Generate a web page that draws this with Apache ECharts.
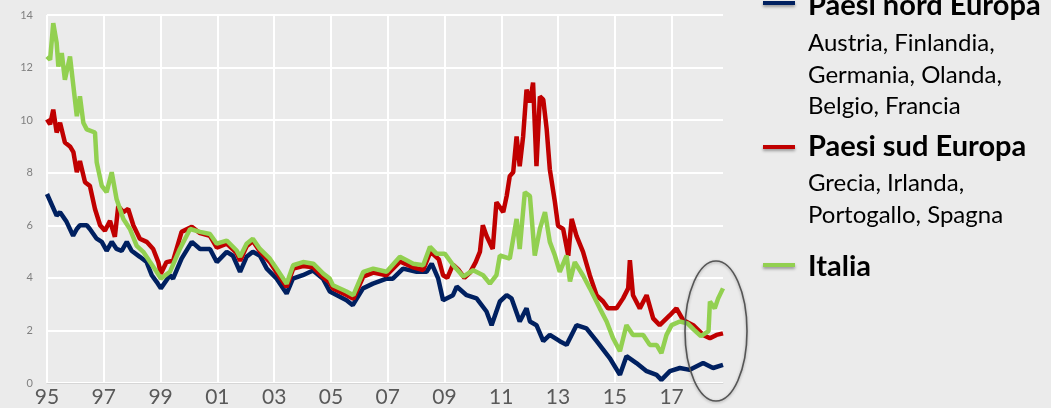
<!DOCTYPE html>
<html lang="it">
<head>
<meta charset="UTF-8">
<title>Rendimenti titoli di Stato</title>
<script src="https://cdn.jsdelivr.net/npm/echarts@6/dist/echarts.min.js"></script>
<style>
  html, body { margin: 0; padding: 0; background: #ebebeb; }
  #chart { width: 1051px; height: 408px; }
</style>
</head>
<body>
<div id="chart"></div>
<script>
// anni dal 1995 -> rendimento (%)
var tickValues = [0, 2, 4, 6, 8, 10, 12, 14, 16, 18, 20, 22];
var tickLabels = ['95', '97', '99', '01', '03', '05', '07', '09', '11', '13', '15', '17'];

var nord = [
  [0.0, 7.19], [0.34, 6.37], [0.46, 6.5], [0.69, 6.13], [0.92, 5.6], [1.05, 5.86], [1.16, 6.0],
  [1.40, 6.0], [1.51, 5.86], [1.75, 5.49], [1.93, 5.37], [2.10, 5.03], [2.28, 5.37], [2.45, 5.1],
  [2.63, 5.03], [2.81, 5.37], [2.98, 5.03], [3.27, 4.8], [3.51, 4.6], [3.69, 4.1], [3.86, 3.85],
  [4.01, 3.6], [4.33, 4.1], [4.44, 3.97], [4.74, 4.73], [5.10, 5.37], [5.39, 5.1], [5.74, 5.1],
  [5.98, 4.6], [6.33, 4.99], [6.55, 4.84], [6.80, 4.23], [7.03, 4.8], [7.25, 4.99], [7.50, 4.84],
  [7.74, 4.35], [8.09, 3.97], [8.44, 3.4], [8.66, 3.97], [9.01, 4.1], [9.37, 4.28], [9.72, 3.97],
  [9.96, 3.48], [10.55, 3.15], [10.77, 2.96], [11.13, 3.6], [11.48, 3.78], [11.96, 3.97],
  [12.18, 3.97], [12.54, 4.35], [13.02, 4.23], [13.37, 4.23], [13.55, 4.54], [13.78, 3.97],
  [13.95, 3.15], [14.30, 3.34], [14.43, 3.67], [14.78, 3.34], [15.13, 3.22], [15.48, 2.72],
  [15.66, 2.2], [15.95, 3.1], [16.19, 3.34], [16.36, 3.22], [16.65, 2.34], [16.89, 2.84],
  [17.01, 2.34], [17.24, 2.2], [17.48, 1.59], [17.71, 1.83], [18.06, 1.59], [18.30, 1.45],
  [18.65, 2.2], [19.00, 2.08], [19.36, 1.59], [19.82, 0.95], [20.18, 0.31], [20.41, 1.02],
  [20.76, 0.76], [21.12, 0.45], [21.47, 0.31], [21.64, 0.12], [21.94, 0.45], [22.29, 0.57],
  [22.64, 0.5], [23.11, 0.76], [23.46, 0.57], [23.81, 0.69]
];

var sud = [
  [0.0, 10.03], [0.11, 9.84], [0.22, 10.4], [0.34, 9.53], [0.46, 9.9], [0.63, 9.15], [0.81, 9.0],
  [0.93, 8.78], [1.05, 8.02], [1.16, 8.44], [1.34, 7.64], [1.51, 7.5], [1.69, 6.62], [1.87, 6.0],
  [2.04, 5.79], [2.22, 6.17], [2.39, 5.56], [2.51, 6.73], [2.69, 6.5], [2.86, 6.62], [3.04, 6.0],
  [3.27, 5.49], [3.51, 5.37], [3.74, 5.1], [3.92, 4.6], [4.01, 4.16], [4.21, 4.6], [4.44, 4.65],
  [4.74, 5.75], [5.10, 5.94], [5.39, 5.7], [5.74, 5.6], [5.98, 5.15], [6.33, 5.3], [6.68, 4.95],
  [6.80, 4.65], [7.03, 5.2], [7.25, 5.4], [7.50, 5.0], [7.85, 4.6], [8.09, 4.2], [8.44, 3.65],
  [8.67, 4.35], [9.02, 4.45], [9.38, 4.4], [9.73, 4.02], [9.96, 3.82], [10.07, 3.6], [10.55, 3.35],
  [10.79, 3.2], [11.14, 4.05], [11.49, 4.2], [11.96, 4.1], [12.43, 4.62], [12.90, 4.4],
  [13.25, 4.3], [13.49, 4.95], [13.6, 4.9], [13.8, 4.7], [13.95, 4.1], [14.1, 4.0], [14.3, 4.5],
  [14.5, 4.3], [14.7, 4.0], [14.9, 4.2], [15.1, 4.6], [15.25, 5.0], [15.35, 6.0], [15.48, 5.6],
  [15.70, 5.1], [15.83, 6.88], [16.07, 6.5], [16.19, 7.11], [16.30, 7.87], [16.42, 8.02],
  [16.54, 9.38], [16.65, 8.25], [16.77, 9.38], [16.89, 11.16], [17.01, 10.67], [17.12, 11.43],
  [17.24, 8.25], [17.36, 10.9], [17.48, 10.78], [17.60, 9.65], [17.71, 8.13], [17.89, 6.88],
  [18.0, 5.98], [18.18, 5.86], [18.36, 4.84], [18.48, 6.24], [18.65, 5.6], [18.88, 4.99],
  [19.12, 4.09], [19.36, 3.33], [19.59, 3.1], [19.76, 2.84], [20.06, 2.84], [20.29, 3.22],
  [20.47, 3.6], [20.53, 4.67], [20.64, 3.34], [20.88, 2.84], [21.12, 3.34], [21.35, 2.46],
  [21.58, 2.2], [21.94, 2.58], [22.17, 2.84], [22.40, 2.4], [22.76, 2.2], [23.11, 1.83],
  [23.35, 1.7], [23.58, 1.83], [23.81, 1.89]
];

var italia = [
  [0.0, 12.42], [0.11, 12.3], [0.22, 13.69], [0.34, 12.94], [0.40, 12.04], [0.52, 12.55],
  [0.63, 11.54], [0.81, 12.42], [0.93, 11.29], [1.05, 10.15], [1.16, 10.91], [1.28, 9.9],
  [1.40, 9.65], [1.69, 9.53], [1.75, 8.4], [1.93, 7.5], [2.10, 7.26], [2.28, 8.02], [2.45, 7.0],
  [2.69, 6.24], [2.92, 5.86], [3.16, 5.22], [3.39, 4.99], [3.63, 4.6], [3.86, 4.23], [4.01, 3.97],
  [4.33, 4.23], [4.68, 5.1], [5.04, 5.86], [5.39, 5.75], [5.74, 5.67], [5.98, 5.3], [6.33, 5.42],
  [6.68, 5.04], [6.80, 4.8], [7.03, 5.3], [7.25, 5.49], [7.50, 5.1], [7.85, 4.73], [8.09, 4.35],
  [8.44, 3.78], [8.67, 4.48], [9.02, 4.6], [9.38, 4.54], [9.73, 4.16], [9.96, 3.97], [10.07, 3.72],
  [10.55, 3.48], [10.79, 3.34], [11.14, 4.23], [11.49, 4.35], [11.96, 4.23], [12.43, 4.8],
  [12.90, 4.54], [13.25, 4.48], [13.49, 5.18], [13.72, 4.92], [14.01, 4.92], [14.31, 4.48],
  [14.66, 4.05], [15.01, 4.29], [15.36, 4.1], [15.60, 3.78], [15.83, 4.1], [15.95, 4.85],
  [16.30, 4.73], [16.54, 6.24], [16.65, 5.1], [16.83, 7.26], [17.01, 7.11], [17.18, 4.85],
  [17.36, 5.86], [17.54, 6.5], [17.71, 5.37], [17.89, 4.85], [18.06, 4.23], [18.30, 4.85],
  [18.42, 3.86], [18.59, 4.6], [18.88, 4.09], [19.12, 3.6], [19.47, 2.84], [19.71, 2.34],
  [19.94, 1.7], [20.18, 1.21], [20.41, 2.2], [20.64, 1.83], [21.0, 1.83], [21.23, 1.45],
  [21.47, 1.45], [21.64, 1.14], [21.82, 1.83], [22.0, 2.2], [22.29, 2.34], [22.56, 2.27],
  [22.79, 2.02], [23.03, 1.78], [23.30, 1.97], [23.35, 3.1], [23.52, 2.84], [23.64, 3.22],
  [23.81, 3.6]
];

var colNord = '#002060', colSud = '#c00000', colIta = '#92d050';
var font = 'Lato, "Open Sans", sans-serif';

var chart = echarts.init(document.getElementById('chart'));

function legendItem(y, color) {
  return {
    type: 'rect',
    shape: { x: 763, y: y - 2, width: 32, height: 4 },
    style: { fill: color, shadowBlur: 3, shadowColor: 'rgba(0,0,0,0.35)', shadowOffsetY: 2 }
  };
}
function label(y, text, bold) {
  return {
    type: 'text', x: 808, y: y,
    style: {
      text: text, fill: '#000', verticalAlign: 'middle',
      font: (bold ? 'bold 29px ' : '24px ') + font
    }
  };
}

chart.setOption({
  backgroundColor: '#ebebeb',
  animation: false,
  grid: { left: 47, top: 15, width: 676, height: 370 },
  xAxis: {
    type: 'value', min: 0, max: 23.81, interval: 2,
    axisLine: { show: true, lineStyle: { color: '#d6d6d6', width: 1 } },
    axisTick: { show: false },
    splitLine: { show: true, showMaxLine: false, lineStyle: { color: '#ffffff', width: 2 } },
    axisLabel: {
      customValues: tickValues,
      margin: 4, color: '#595959', fontSize: 21, fontFamily: font,
      formatter: function (v) { return tickLabels[tickValues.indexOf(v)] || ''; }
    }
  },
  yAxis: {
    type: 'value', min: 0, max: 14, interval: 2,
    axisLine: { show: false }, axisTick: { show: false },
    splitLine: { lineStyle: { color: '#ffffff', width: 2 } },
    axisLabel: { margin: 14, color: '#808080', fontSize: 11, fontFamily: font }
  },
  series: [
    { name: 'Paesi nord Europa', type: 'line', data: nord, showSymbol: false,
      lineStyle: { color: colNord, width: 4.5 }, itemStyle: { color: colNord } },
    { name: 'Paesi sud Europa', type: 'line', data: sud, showSymbol: false,
      lineStyle: { color: colSud, width: 4.5 }, itemStyle: { color: colSud } },
    { name: 'Italia', type: 'line', data: italia, showSymbol: false,
      lineStyle: { color: colIta, width: 4.5 }, itemStyle: { color: colIta } }
  ],
  graphic: [
    legendItem(3, colNord), label(6, 'Paesi nord Europa', true),
    label(43, 'Austria, Finlandia,'), label(75, 'Germania, Olanda,'), label(106, 'Belgio, Francia'),
    legendItem(147, colSud), label(147, 'Paesi sud Europa', true),
    label(183, 'Grecia, Irlanda,'), label(215, 'Portogallo, Spagna'),
    legendItem(265, colIta), label(267, 'Italia', true),
    {
      type: 'ellipse', z: 100,
      shape: { cx: 716, cy: 331, rx: 31, ry: 70 },
      style: { fill: null, stroke: '#555555', lineWidth: 1.6,
        shadowBlur: 3, shadowColor: 'rgba(0,0,0,0.3)', shadowOffsetY: 1 }
    }
  ]
});
</script>
</body>
</html>
